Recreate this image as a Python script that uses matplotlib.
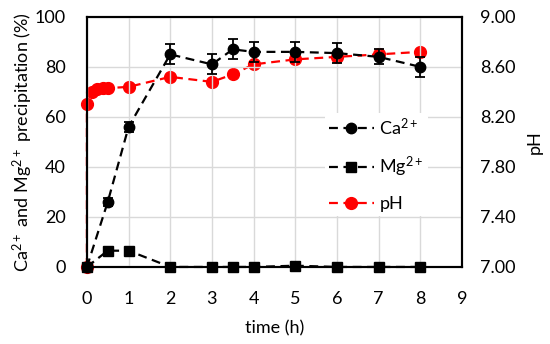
import numpy as np
import matplotlib.pyplot as plt

plt.rcParams['font.family'] = ['Lato', 'DejaVu Sans']
plt.rcParams['mathtext.fontset'] = 'custom'
plt.rcParams['mathtext.rm'] = 'Lato'
plt.rcParams['mathtext.default'] = 'regular'

t_ca = [0, 0.5, 1, 2, 3, 3.5, 4, 5, 6, 7, 8]
ca = [0, 26, 56, 85, 81, 87, 86, 86, 85.5, 84, 80]
ca_err = [0, 1.5, 2, 4, 4, 4, 4, 4, 4, 3, 4]

t_mg = [0, 0.5, 1, 2, 3, 3.5, 4, 5, 6, 7, 8]
mg = [0, 6.5, 6.5, 0, 0, 0, 0, 0.5, 0, 0, 0]

t_ph = [0, 0, 0.125, 0.25, 0.375, 0.5, 1, 2, 3, 3.5, 4, 5, 6, 7, 8]
ph = [7.0, 8.30, 8.40, 8.42, 8.43, 8.43, 8.44, 8.52, 8.48, 8.54, 8.62, 8.66, 8.68, 8.70, 8.72]

ph_ticks = [7.0, 7.4, 7.8, 8.2, 8.6, 9.0]

fig = plt.figure(figsize=(5.5, 3.44), dpi=100)
ax = fig.add_axes([0.158, 0.224, 0.682, 0.727])
ax2 = ax.twinx()

ax.set_zorder(ax2.get_zorder() + 1)
ax.patch.set_visible(False)

ph_line, = ax2.plot(t_ph, ph, '--o', color='#ff0000', lw=1.6, ms=8.5, dashes=(4, 2.5),
                    clip_on=False, zorder=3, label='pH')
ax2.set_ylim(7.0, 9.0)
ax2.set_yticks(ph_ticks)
ax2.set_yticklabels(['%.2f' % v for v in ph_ticks])
ax2.set_ylabel('pH', fontsize=13, labelpad=8)

ca_cont = ax.errorbar(t_ca, ca, yerr=ca_err, fmt='--o', color='black', lw=1.6, ms=7.5,
                      dashes=(4, 2.5), capsize=3.5, elinewidth=1.3, capthick=1.3,
                      zorder=4, label='Ca$^{2+}$')
ca_cont.lines[0].set_clip_on(False)
mg_line, = ax.plot(t_mg, mg, '--s', color='black', lw=1.6, ms=7, dashes=(4, 2.5),
                   clip_on=False, zorder=5, label='Mg$^{2+}$')

ax.set_xlim(0, 9)
ax.set_ylim(0, 100)
ax.set_xticks(range(0, 10))
ax.set_yticks(range(0, 101, 20))
ax.set_xlabel('time (h)', fontsize=13, labelpad=10)
ax.set_ylabel('Ca$^{2+}$ and Mg$^{2+}$ precipitation (%)', fontsize=13, labelpad=0)

ax.grid(True, color='#d9d9d9', lw=1)
ax.set_axisbelow(True)
for a in (ax, ax2):
    for s in a.spines.values():
        s.set_linewidth(1.5)
        s.set_color('black')
ax.tick_params(axis='both', length=0, labelsize=13)
ax.tick_params(axis='x', pad=17)
ax.tick_params(axis='y', pad=15)
ax2.tick_params(axis='y', length=0, labelsize=13, pad=13)

leg = ax.legend([ca_cont.lines[0], mg_line, ph_line], ['Ca$^{2+}$', 'Mg$^{2+}$', 'pH'],
                loc='center left', bbox_to_anchor=(0.635, 0.41), borderaxespad=0,
                frameon=True, framealpha=1, edgecolor='white', fontsize=13,
                handlelength=2.5, handletextpad=0.3, labelspacing=0.95, borderpad=0.2)
leg.get_frame().set_linewidth(0)
leg.set_zorder(10)

fig.savefig('out.png', dpi=100)
